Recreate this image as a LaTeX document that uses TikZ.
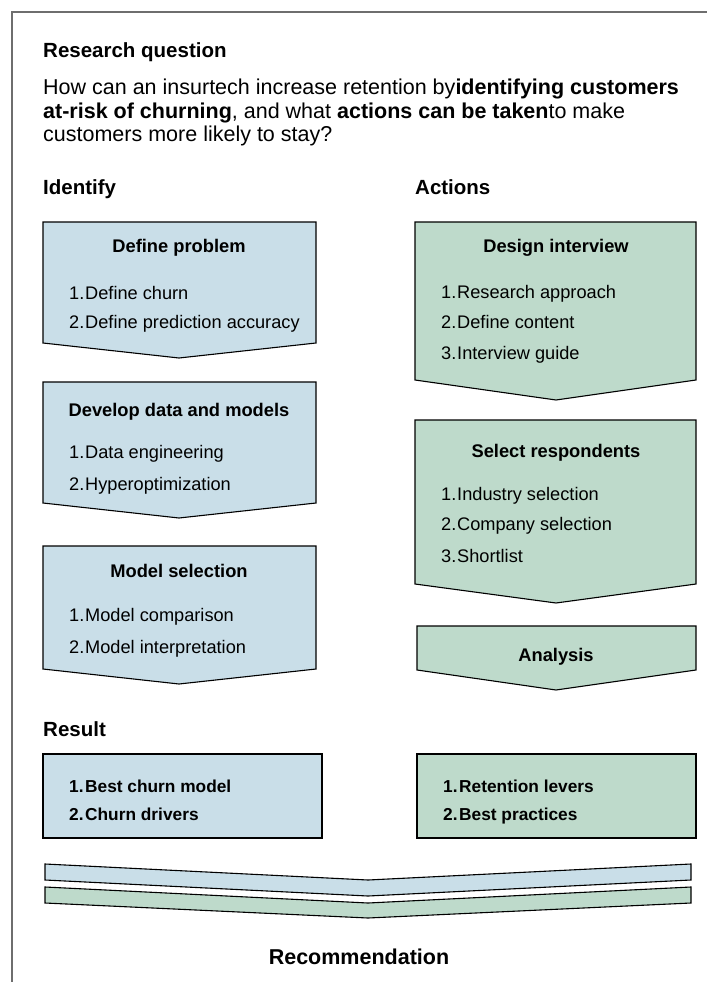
\documentclass[tikz,border=0pt]{standalone}
\usepackage{fontspec}
\setmainfont{Liberation Sans}
\usepackage{tikz}

\definecolor{bleu}{RGB}{201,222,232}
\definecolor{vert}{RGB}{190,218,203}
\definecolor{cadre}{RGB}{110,110,110}

\begin{document}
\begin{tikzpicture}[x=1pt,y=-1pt,
    bloc/.style={draw=black, line width=1.1pt, line join=miter},
    entete/.style={anchor=base west, inner sep=0pt, font=\fontsize{20.5}{23}\selectfont\bfseries},
    texte/.style={anchor=base west, inner sep=0pt, font=\fontsize{21.5}{23.5}\selectfont},
    titre/.style={anchor=base, inner sep=0pt, font=\fontsize{18.3}{20}\selectfont\bfseries},
    item/.style={anchor=base west, inner sep=0pt, font=\fontsize{18.2}{20}\selectfont},
    itemgras/.style={item, font=\fontsize{17.3}{20}\selectfont\bfseries}]
  \useasboundingbox (0,0) rectangle (707,982);

     % Cadre
  \draw[cadre, line width=1.5pt] (12,982) -- (12,12) -- (707,12);

     % Question
  \node[entete] (rq) at (43,57) {Research question};
  \node[texte] (q1) at (43,94) {How can an insurtech increase retention by\textbf{identifying customers}};
  \node[texte] (q2) at (43,118) {\textbf{at-risk of churning}, and what \textbf{actions can be taken}to make};
  \node[texte] (q3) at (43,141) {customers more likely to stay?};

  \node[entete] (id) at (43,194) {Identify};
  \node[entete] (ac) at (415,194) {Actions};

     % Colonne gauche
  \draw[bloc, fill=bleu] (43,222) -- (316,222) -- (316,343) -- (179,358) -- (43,343) -- cycle;
  \node[titre] (p1) at (179,252) {Define problem};
  \node[item] (p11) at (69,299) {\makebox[16pt][l]{1.}Define churn};
  \node[item] (p12) at (69,328) {\makebox[16pt][l]{2.}Define prediction accuracy};

  \draw[bloc, fill=bleu] (43,382) -- (316,382) -- (316,503) -- (179,518) -- (43,503) -- cycle;
  \node[titre] (p2) at (179,416) {Develop data and models};
  \node[item] (p21) at (69,458) {\makebox[16pt][l]{1.}Data engineering};
  \node[item] (p22) at (69,490) {\makebox[16pt][l]{2.}Hyperoptimization};

  \draw[bloc, fill=bleu] (43,546) -- (316,546) -- (316,669) -- (179,684) -- (43,669) -- cycle;
  \node[titre] (p3) at (179,577) {Model selection};
  \node[item] (p31) at (69,621) {\makebox[16pt][l]{1.}Model comparison};
  \node[item] (p32) at (69,653) {\makebox[16pt][l]{2.}Model interpretation};

     % Colonne droite
  \draw[bloc, fill=vert] (415,222) -- (696,222) -- (696,380) -- (556,400) -- (415,380) -- cycle;
  \node[titre] (a1) at (556,252) {Design interview};
  \node[item] (a11) at (441,298) {\makebox[16pt][l]{1.}Research approach};
  \node[item] (a12) at (441,328) {\makebox[16pt][l]{2.}Define content};
  \node[item] (a13) at (441,359) {\makebox[16pt][l]{3.}Interview guide};

  \draw[bloc, fill=vert] (415,420) -- (696,420) -- (696,584) -- (556,603) -- (415,584) -- cycle;
  \node[titre] (a2) at (556,457) {Select respondents};
  \node[item] (a21) at (441,500) {\makebox[16pt][l]{1.}Industry selection};
  \node[item] (a22) at (441,530) {\makebox[16pt][l]{2.}Company selection};
  \node[item] (a23) at (441,562) {\makebox[16pt][l]{3.}Shortlist};

  \draw[bloc, fill=vert] (417,626) -- (696,626) -- (696,670) -- (556,690) -- (417,670) -- cycle;
  \node[titre] (a3) at (556,661) {Analysis};

     % Resultats
  \node[entete] (res) at (43,736) {Result};
  \draw[bloc, fill=bleu] (43,754) rectangle (322,838);
  \node[itemgras] (r11) at (69,792) {\makebox[16pt][l]{1.}Best churn model};
  \node[itemgras] (r12) at (69,820) {\makebox[16pt][l]{2.}Churn drivers};
  \draw[bloc, fill=vert] (417,754) rectangle (696,838);
  \node[itemgras] (r21) at (443,792) {\makebox[16pt][l]{1.}Retention levers};
  \node[itemgras] (r22) at (443,820) {\makebox[16pt][l]{2.}Best practices};

     % Recommandation
  \draw[bloc, fill=bleu] (45,864) -- (368,880) -- (691,864) -- (691,880) -- (368,896) -- (45,880) -- cycle;
  \draw[bloc, fill=vert] (45,887) -- (368,903) -- (691,887) -- (691,903) -- (368,918) -- (45,903) -- cycle;
  \node[titre, font=\fontsize{21.5}{24}\selectfont\bfseries] (rec) at (359,964) {Recommendation};

\end{tikzpicture}
\end{document}
